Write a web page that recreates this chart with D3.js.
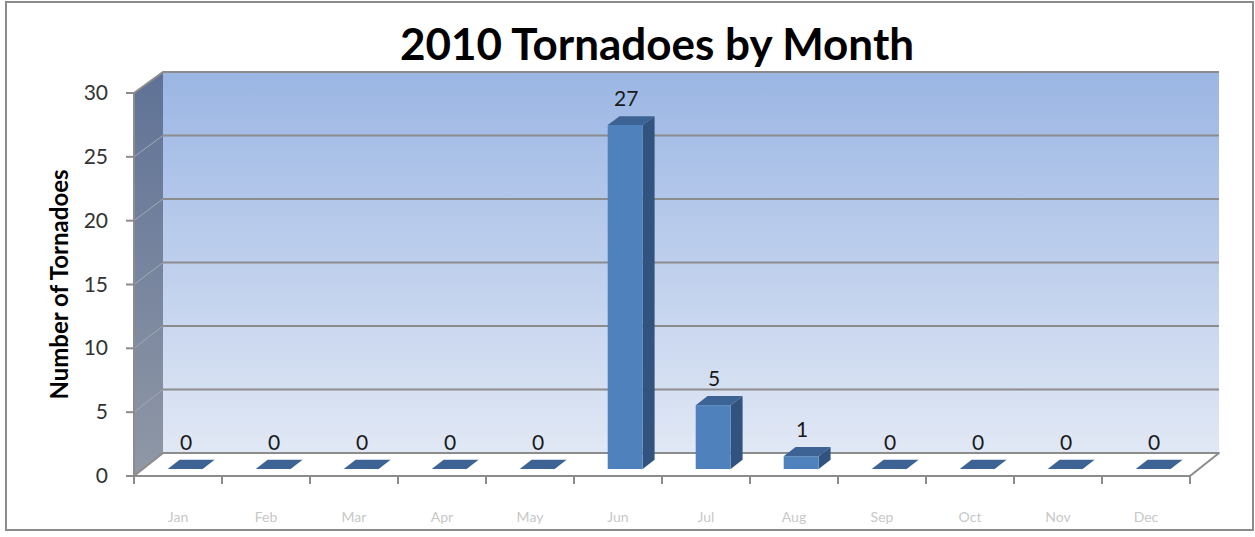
<!DOCTYPE html>
<html>
<head>
<meta charset="utf-8">
<script src="https://cdn.jsdelivr.net/npm/d3@7"></script>
<style>
  body { margin: 0; background: #fff; }
  text { font-family: Lato, "Open Sans", sans-serif; }
</style>
</head>
<body>
<div id="chart"></div>
<script>
const months = ["Jan", "Feb", "Mar", "Apr", "May", "Jun", "Jul", "Aug", "Sep", "Oct", "Nov", "Dec"];
const tornadoes = [0, 0, 0, 0, 0, 27, 5, 1, 0, 0, 0, 0];
const yTicks = [0, 5, 10, 15, 20, 25, 30];

const width = 1255, height = 537;

const svg = d3.select("#chart").append("svg")
    .attr("width", width)
    .attr("height", height);

// 3D frame: front plane and back wall plane
const depth = {dx: 29};
const x = d3.scaleBand().domain(months).range([134, 1190]);
const yFront = d3.scaleLinear().domain([0, 30]).range([476, 93]);
const yBack = d3.scaleLinear().domain([0, 30]).range([453, 72]);

// point at value v, front x position px, depth fraction f (0 = front, 1 = back)
function pt(px, v, f) {
    return [px + f * depth.dx, yFront(v) * (1 - f) + yBack(v) * f];
}

const defs = svg.append("defs");
const wallGrad = defs.append("linearGradient").attr("id", "wall")
    .attr("x1", 0).attr("y1", 0).attr("x2", 0).attr("y2", 1);
wallGrad.append("stop").attr("offset", "0%").attr("stop-color", "#9bb6e4");
wallGrad.append("stop").attr("offset", "100%").attr("stop-color", "#e1e8f5");

const sideGrad = defs.append("linearGradient").attr("id", "side")
    .attr("x1", 0).attr("y1", 0).attr("x2", 0).attr("y2", 1);
sideGrad.append("stop").attr("offset", "0%").attr("stop-color", "#5f7296");
sideGrad.append("stop").attr("offset", "100%").attr("stop-color", "#9098a6");

// outer chart border
svg.append("rect")
    .attr("x", 6).attr("y", 2)
    .attr("width", 1247).attr("height", 528)
    .attr("fill", "none")
    .attr("stroke", "#8c8c8c")
    .attr("stroke-width", 2);

const x0 = x.range()[0], x1 = x.range()[1];

// back wall
svg.append("rect")
    .attr("x", x0 + depth.dx).attr("y", yBack(30))
    .attr("width", x1 - x0).attr("height", yBack(0) - yBack(30))
    .attr("fill", "url(#wall)");

// side wall
const side = [pt(x0, 0, 0), pt(x0, 30, 0), pt(x0, 30, 1), pt(x0, 0, 1)];
svg.append("polygon")
    .attr("points", side.map(p => p.join(",")).join(" "))
    .attr("fill", "url(#side)");

// gridlines on back wall and side wall
svg.append("g").selectAll("line")
    .data(yTicks.filter(d => d > 0))
    .join("line")
    .attr("x1", x0 + depth.dx).attr("x2", x1 + depth.dx)
    .attr("y1", d => yBack(d)).attr("y2", d => yBack(d))
    .attr("stroke", "#8c8c8c")
    .attr("stroke-width", 2);

svg.append("g").selectAll("line")
    .data(yTicks.filter(d => d > 0 && d < 30))
    .join("line")
    .attr("x1", x0).attr("y1", d => yFront(d))
    .attr("x2", x0 + depth.dx).attr("y2", d => yBack(d))
    .attr("stroke", "#a4a9b3")
    .attr("stroke-width", 1);

// top edge of walls
svg.append("polyline")
    .attr("points", [pt(x0, 30, 0), pt(x0, 30, 1), pt(x1, 30, 1)].map(p => p.join(",")).join(" "))
    .attr("fill", "none")
    .attr("stroke", "#8c8c8c")
    .attr("stroke-width", 2);

// floor
const floor = [pt(x0, 0, 0), pt(x1, 0, 0), pt(x1, 0, 1), pt(x0, 0, 1)];
svg.append("polygon")
    .attr("points", floor.map(p => p.join(",")).join(" "))
    .attr("fill", "#ffffff")
    .attr("stroke", "#8c8c8c")
    .attr("stroke-width", 2)
    .attr("stroke-linejoin", "round");

// y axis (front edge of side wall)
svg.append("line")
    .attr("x1", x0).attr("x2", x0)
    .attr("y1", yFront(0)).attr("y2", yFront(30))
    .attr("stroke", "#8c8c8c").attr("stroke-width", 2);

const yAxisG = svg.append("g");
yAxisG.selectAll("line")
    .data(yTicks)
    .join("line")
    .attr("x1", x0 - 8).attr("x2", x0)
    .attr("y1", d => yFront(d)).attr("y2", d => yFront(d))
    .attr("stroke", "#8c8c8c").attr("stroke-width", 2);

yAxisG.selectAll("text")
    .data(yTicks)
    .join("text")
    .attr("x", 108)
    .attr("y", d => yFront(d) + 7)
    .attr("text-anchor", "end")
    .attr("font-size", 21)
    .attr("fill", "#333")
    .text(d => d);

// x ticks below the floor
const xTickPos = months.map(m => x(m)).concat([x1]);
svg.append("g").selectAll("line")
    .data(xTickPos)
    .join("line")
    .attr("x1", d => d).attr("x2", d => d)
    .attr("y1", yFront(0)).attr("y2", yFront(0) + 8)
    .attr("stroke", "#8c8c8c").attr("stroke-width", 2);

// month labels (faint, as in the source image)
svg.append("g").selectAll("text")
    .data(months)
    .join("text")
    .attr("x", d => x(d) + x.bandwidth() / 2)
    .attr("y", 522)
    .attr("text-anchor", "middle")
    .attr("font-size", 14)
    .attr("fill", "#c8c8c8")
    .text(d => d);

// 3D bars
const barOffset = 25, barW = 35, fA = 0.3, fB = 0.71;
const bars = months.map((m, i) => ({month: m, value: tornadoes[i], left: x(m) + barOffset}));

const barG = svg.append("g").selectAll("g")
    .data(bars)
    .join("g");

const poly = arr => arr.map(p => p.join(",")).join(" ");

// side face
barG.filter(d => d.value > 0).append("polygon")
    .attr("points", d => poly([
        pt(d.left + barW, 0, fA), pt(d.left + barW, d.value, fA),
        pt(d.left + barW, d.value, fB), pt(d.left + barW, 0, fB)]))
    .attr("fill", "#31537d");

// front face
barG.filter(d => d.value > 0).append("polygon")
    .attr("points", d => poly([
        pt(d.left, 0, fA), pt(d.left + barW, 0, fA),
        pt(d.left + barW, d.value, fA), pt(d.left, d.value, fA)]))
    .attr("fill", "#4f81bd");

// top face
barG.append("polygon")
    .attr("points", d => poly([
        pt(d.left, d.value, fA), pt(d.left + barW, d.value, fA),
        pt(d.left + barW, d.value, fB), pt(d.left, d.value, fB)]))
    .attr("fill", "#3c6393");

// data labels
barG.append("text")
    .attr("x", d => pt(d.left + barW / 2, d.value, fA)[0] + 1)
    .attr("y", d => pt(d.left, d.value, fB)[1] - 10)
    .attr("text-anchor", "middle")
    .attr("font-size", 21)
    .attr("fill", "#1a1a1a")
    .text(d => d.value);

// axis title
svg.append("text")
    .attr("transform", `translate(68, ${(yFront(0) + yFront(30)) / 2}) rotate(-90)`)
    .attr("text-anchor", "middle")
    .attr("font-size", 24)
    .attr("font-weight", "bold")
    .attr("fill", "#000")
    .text("Number of Tornadoes");

// chart title
svg.append("text")
    .attr("x", 657)
    .attr("y", 60)
    .attr("text-anchor", "middle")
    .attr("font-size", 44)
    .attr("font-weight", "bold")
    .attr("fill", "#000")
    .text("2010 Tornadoes by Month");
</script>
</body>
</html>
